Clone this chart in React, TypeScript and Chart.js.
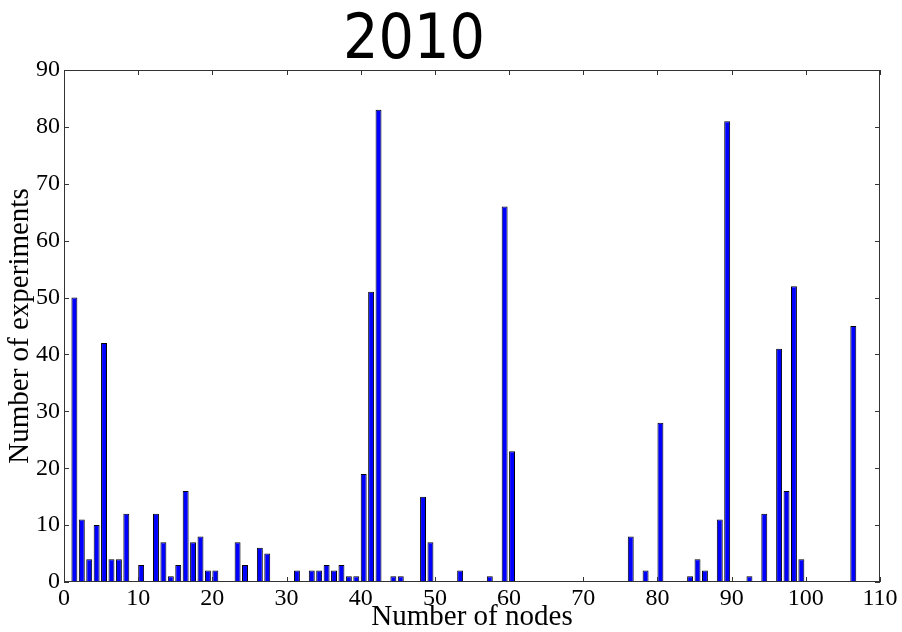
import React, { useEffect, useRef } from 'react';
import { Chart, registerables } from 'chart.js';
Chart.register(...registerables);

const TITLE = '2010';
const X_LABEL = 'Number of nodes';
const Y_LABEL = 'Number of experiments';
const NODES = [1,2,3,4,5,6,7,8,10,12,13,14,15,16,17,18,19,20,23,24,26,27,31,33,34,35,36,37,38,39,40,41,42,44,45,48,49,53,57,59,60,76,78,80,84,85,86,88,89,92,94,96,97,98,99,106];
const COUNTS = [50,11,4,10,42,4,4,12,3,12,7,1,3,16,7,8,2,2,7,3,6,5,2,2,2,3,2,3,1,1,19,51,83,1,1,15,7,2,1,66,23,8,2,28,1,4,2,11,81,1,12,41,16,52,4,45];
const X_MIN = 0, X_MAX = 110, X_STEP = 10;
const Y_MIN = 0, Y_MAX = 90, Y_STEP = 10;
const BAR_WIDTH = 0.8;

const SERIF = '"Liberation Serif", "Times New Roman", serif';

const framePlugin = {
  id: 'frame',
  afterDraw(chart: any) {
    const { ctx, chartArea: a, scales } = chart;
    ctx.save();
    ctx.strokeStyle = '#333';
    ctx.lineWidth = 1;
    ctx.strokeRect(a.left + 0.5, a.top + 0.5, a.right - a.left - 1, a.bottom - a.top - 1);
    const len = 5;
    ctx.beginPath();
    for (const t of scales.x.ticks) {
      const px = Math.round(scales.x.getPixelForValue(t.value)) + 0.5;
      ctx.moveTo(px, a.bottom); ctx.lineTo(px, a.bottom - len);
      ctx.moveTo(px, a.top); ctx.lineTo(px, a.top + len);
    }
    for (const t of scales.y.ticks) {
      const py = Math.round(scales.y.getPixelForValue(t.value)) + 0.5;
      ctx.moveTo(a.left, py); ctx.lineTo(a.left + len, py);
      ctx.moveTo(a.right, py); ctx.lineTo(a.right - len, py);
    }
    ctx.stroke();
    ctx.fillStyle = '#000';
    ctx.font = '62px "Comic Sans MS", "DejaVu Sans Condensed", "DejaVu Sans", sans-serif';
    ctx.textAlign = 'center';
    ctx.textBaseline = 'alphabetic';
    ctx.fillText(TITLE, 414, 58);
    ctx.restore();
  },
};

export default function App() {
  const ref = useRef<HTMLCanvasElement>(null);
  useEffect(() => {
    if (!ref.current) return;
    const chart = new Chart(ref.current, {
      type: 'bar',
      data: {
        datasets: [{
          data: NODES.map((n, i) => ({ x: n + BAR_WIDTH / 2, y: COUNTS[i] })),
          backgroundColor: '#0000ff',
          borderColor: '#000000',
          borderWidth: 1,
          borderSkipped: false,
          barPercentage: BAR_WIDTH,
          categoryPercentage: 1,
        }],
      },
      options: {
        responsive: false,
        animation: false,
        layout: { padding: { left: 0, top: 70, right: 22, bottom: 0 } },
        plugins: { legend: { display: false }, tooltip: { enabled: false }, title: { display: false } },
        scales: {
          x: {
            type: 'linear',
            min: X_MIN, max: X_MAX,
            offset: false,
            grid: { display: false, drawTicks: false },
            border: { display: false },
            ticks: { stepSize: X_STEP, color: '#000', font: { family: SERIF, size: 24 }, padding: 2, maxRotation: 0 },
            title: { display: true, text: X_LABEL, color: '#000', font: { family: SERIF, size: 29, lineHeight: 1 }, padding: 0 },
            afterFit: (s: any) => { s.height = 50; },
          },
          y: {
            min: Y_MIN, max: Y_MAX,
            grid: { display: false, drawTicks: false },
            border: { display: false },
            ticks: { stepSize: Y_STEP, color: '#000', font: { family: SERIF, size: 24 }, padding: 4 },
            title: { display: true, text: Y_LABEL, color: '#000', font: { family: SERIF, size: 29, lineHeight: 1 }, padding: { top: 6, bottom: 0 } },
            afterFit: (s: any) => { s.width = 64; },
          },
        },
      },
      plugins: [framePlugin],
    });
    return () => chart.destroy();
  }, []);
  return (
    <div style={{ position: 'fixed', left: 0, top: 0, width: 902, height: 632, background: '#fff' }}>
      <canvas ref={ref} width={902} height={632} />
    </div>
  );
}
